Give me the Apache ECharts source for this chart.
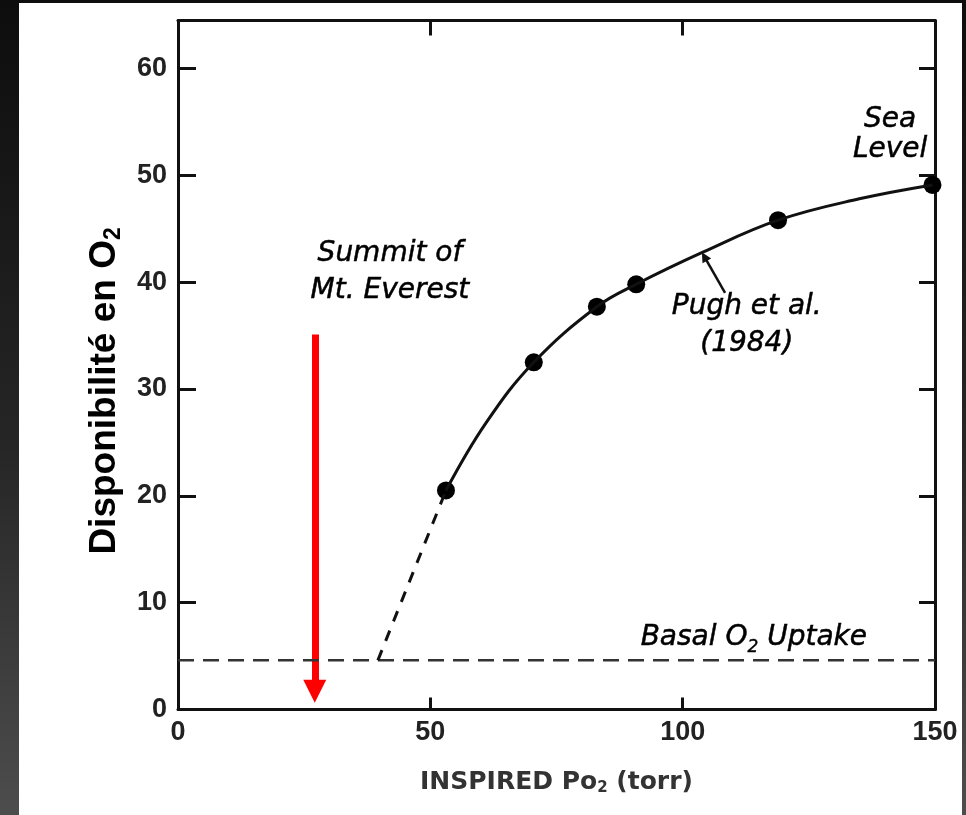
<!DOCTYPE html>
<html lang="fr">
<head>
<meta charset="UTF-8">
<title>Disponibilité en O2</title>
<script src="https://cdn.jsdelivr.net/npm/echarts@6/dist/echarts.min.js"></script>
<style>
    html, body {
        margin: 0;
        padding: 0;
        width: 966px;
        height: 815px;
        overflow: hidden;
        background: linear-gradient(#0d0d0d, #262626 55%, #4d4d4d);
    }
    #paper {
        position: absolute;
        left: 19px;
        top: 3px;
        width: 943px;
        height: 812px;
        background: #fff;
    }
    #main {
        position: absolute;
        left: 0;
        top: 0;
        width: 966px;
        height: 815px;
    }
</style>
</head>
<body>
<div id="paper"></div>
<div id="main"></div>

<script>
    // graduations
    var xTicks = [0, 50, 100, 150];
    var yTicks = [0, 10, 20, 30, 40, 50, 60];

    // points mesurés (ronds noirs)
    var measured = [[53.1, 20.5], [70.5, 32.5], [83, 37.7], [90.8, 39.8], [118.9, 45.8], [149.5, 49.1]];
    // courbe Pugh et al. (trait plein)
    var pughCurve = [[53.1, 20.5], [61, 26.8], [70.5, 32.5], [83, 37.7], [90.8, 39.8],
        [104, 42.8], [118.9, 45.8], [135, 47.8], [149.5, 49.1]];
    // extrapolation en tirets jusqu'à la consommation basale
    var extrapolation = [[39.6, 4.6], [53.1, 20.5]];
    // consommation basale
    var basalLine = [[0, 4.6], [150, 4.6]];
    // flèche rouge (sommet de l'Everest)
    var summitArrow = [[27.1, 35.1], [27.1, 1.7]];
    // petite flèche vers la courbe
    var pughPointer = [[108.4, 39.0], [104.3, 42.4]];

    // textes de la figure : [x, y, texte]
    var notes = [
        [42.0, 40.9, 'Summit of\nMt. Everest'],
        [112.7, 36.0, 'Pugh et al.\n(1984)'],
        [114.1, 6.7, 'Basal O{s|2} Uptake']
    ];
    var seaNote = [[141.1, 53.8, 'Sea\nLevel']];

    var ink = '#111';

    var myChart = echarts.init(document.getElementById('main'));

    function noteSeries(list, lineHeight) {
        return {
            type: 'scatter', silent: true, symbolSize: 1,
            itemStyle: {color: 'rgba(0,0,0,0)', opacity: 1},
            data: list.map(function (n) { return {value: [n[0], n[1]], name: n[2]}; }),
            label: {
                show: true, position: 'inside', opacity: 1,
                formatter: function (p) { return p.name; },
                fontFamily: 'DejaVu Sans', fontStyle: 'italic', fontSize: 28, lineHeight: lineHeight,
                color: '#000', textBorderColor: '#000', textBorderWidth: 0.5,
                rich: {s: {fontFamily: 'DejaVu Sans', fontStyle: 'italic', fontSize: 17, color: '#000',
                    textBorderColor: '#000', textBorderWidth: 0.4, verticalAlign: 'bottom', padding: [14, 0, 0, 0]}}
            }
        };
    }

    var option = {
        animation: false,
        backgroundColor: 'transparent',
        grid: {left: 178, right: 31, top: 20.4, bottom: 105.5, containLabel: false},
        xAxis: [{
            type: 'value', min: xTicks[0], max: xTicks[xTicks.length - 1], interval: 50,
            position: 'bottom',
            axisLine: {show: true, onZero: false, lineStyle: {color: ink, width: 3}},
            axisTick: {show: true, inside: true, length: 12, lineStyle: {color: ink, width: 3}},
            axisLabel: {margin: 10, fontFamily: 'Liberation Sans', fontWeight: 'bold', fontSize: 27, color: '#222'},
            splitLine: {show: false},
            name: 'INSPIRED Po{s|2} (torr)',
            nameLocation: 'middle',
            nameGap: 59,
            nameTextStyle: {
                fontFamily: 'DejaVu Sans', fontWeight: 'bold', fontSize: 25, color: '#333',
                rich: {s: {fontFamily: 'DejaVu Sans', fontWeight: 'bold', fontSize: 15, color: '#333', verticalAlign: 'bottom', padding: [12, 0, 0, 0]}}
            }
        }, {
            type: 'value', min: xTicks[0], max: xTicks[xTicks.length - 1], interval: 50,
            position: 'top',
            axisLine: {show: true, onZero: false, lineStyle: {color: ink, width: 3}},
            axisTick: {show: true, inside: true, length: 15, lineStyle: {color: ink, width: 3}},
            axisLabel: {show: false},
            splitLine: {show: false}
        }],
        yAxis: [{
            type: 'value', min: yTicks[0], max: 64.5, interval: 10,
            position: 'left',
            axisLine: {show: true, onZero: false, lineStyle: {color: ink, width: 3}},
            axisTick: {show: true, inside: true, length: 18, lineStyle: {color: ink, width: 3}},
            axisLabel: {margin: 11, showMaxLabel: false, fontFamily: 'Liberation Sans', fontWeight: 'bold', fontSize: 27, color: '#222'},
            splitLine: {show: false},
            name: 'Disponibilité en O{s|2}',
            nameLocation: 'middle',
            nameRotate: 90,
            nameGap: 53,
            nameTextStyle: {
                fontFamily: 'Liberation Sans', fontWeight: 'bold', fontSize: 37, color: '#000',
                padding: [0, 52, 0, 0],
                rich: {s: {fontFamily: 'Liberation Sans', fontWeight: 'bold', fontSize: 23, color: '#000', verticalAlign: 'bottom', padding: [17, 0, 0, 0]}}
            }
        }, {
            type: 'value', min: yTicks[0], max: 64.5, interval: 10,
            position: 'right',
            axisLine: {show: true, onZero: false, lineStyle: {color: ink, width: 3}},
            axisTick: {show: true, inside: true, length: 16, lineStyle: {color: ink, width: 3}},
            axisLabel: {show: false},
            splitLine: {show: false}
        }],
        series: [
            {
                // consommation basale
                type: 'line', data: basalLine, symbol: 'none', silent: true,
                lineStyle: {color: '#333', width: 2.5, type: [16, 9]}
            },
            {
                type: 'line', data: extrapolation, symbol: 'none', silent: true,
                lineStyle: {color: ink, width: 3, type: [11, 10]}
            },
            {
                type: 'line', data: pughCurve, symbol: 'none', smooth: 0.4, silent: true,
                lineStyle: {color: ink, width: 3}
            },
            {
                type: 'scatter', data: measured, symbol: 'circle', symbolSize: 18, silent: true,
                itemStyle: {color: '#000', opacity: 1}
            },
            {
                type: 'lines', coordinateSystem: 'cartesian2d', silent: true,
                symbol: ['none', 'triangle'], symbolSize: 23,
                lineStyle: {color: '#ff0000', width: 7, opacity: 1},
                data: [{coords: summitArrow}]
            },
            {
                type: 'lines', coordinateSystem: 'cartesian2d', silent: true,
                symbol: ['none', 'triangle'], symbolSize: 10,
                lineStyle: {color: ink, width: 2.5, opacity: 1},
                data: [{coords: pughPointer}]
            },
            noteSeries(notes, 37),
            noteSeries(seaNote, 30)
        ]
    };

    myChart.setOption(option);
</script>
</body>
</html>
